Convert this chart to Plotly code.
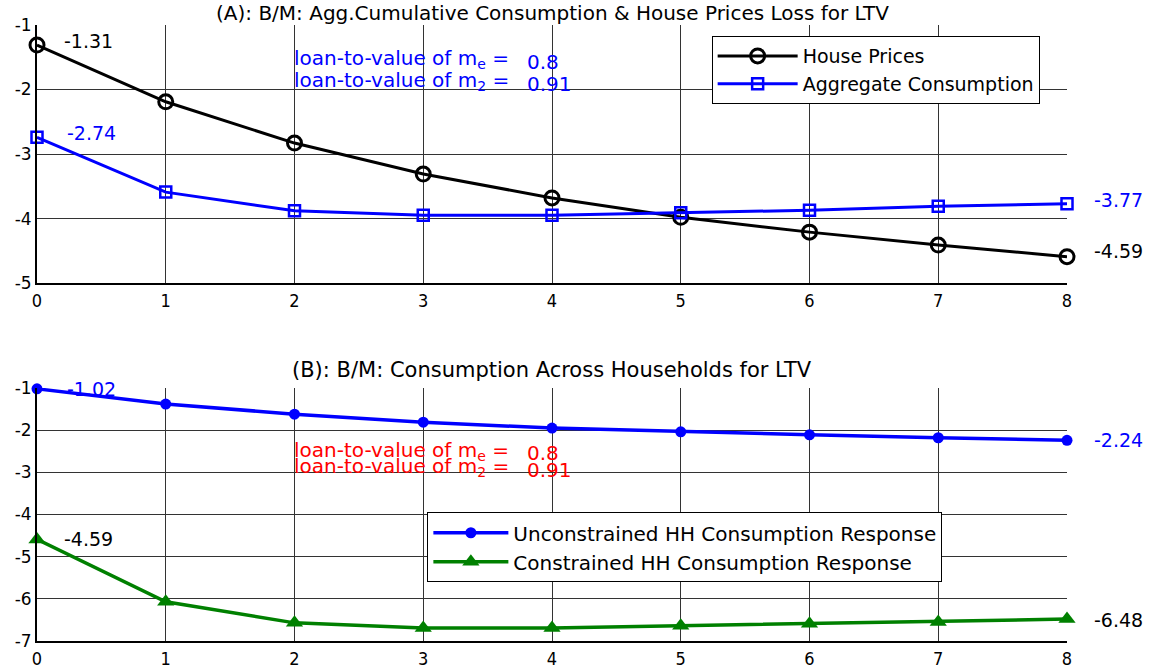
import plotly.graph_objects as go

periods = [0, 1, 2, 3, 4, 5, 6, 7, 8]
house_prices = [-1.31, -2.19, -2.83, -3.31, -3.68, -3.98, -4.21, -4.41, -4.59]
agg_consumption = [-2.74, -3.59, -3.88, -3.95, -3.95, -3.91, -3.87, -3.81, -3.77]
unconstrained = [-1.02, -1.38, -1.62, -1.81, -1.95, -2.04, -2.11, -2.18, -2.24]
constrained = [-4.59, -6.07, -6.57, -6.69, -6.69, -6.64, -6.59, -6.55, -6.48]
ytick_top = [-5, -4, -3, -2, -1]
ytick_bottom = [-7, -6, -5, -4, -3, -2, -1]
ltv_me = 0.8
ltv_m2 = 0.91

FONT = "DejaVu Sans, Liberation Sans, sans-serif"
NARROW = "DejaVu Sans Condensed, Liberation Sans Narrow, DejaVu Sans, sans-serif"

fig = go.Figure()

fig.add_trace(go.Scatter(x=periods, y=house_prices, name="House Prices", mode="lines+markers",
                         line=dict(color="black", width=3),
                         marker=dict(symbol="circle-open", size=14, color="black", line=dict(width=3)),
                         cliponaxis=False, xaxis="x", yaxis="y", legend="legend"))
fig.add_trace(go.Scatter(x=periods, y=agg_consumption, name="Aggregate Consumption", mode="lines+markers",
                         line=dict(color="blue", width=3),
                         marker=dict(symbol="square-open", size=11, color="blue", line=dict(width=2.5)),
                         cliponaxis=False, xaxis="x", yaxis="y", legend="legend"))
fig.add_trace(go.Scatter(x=periods, y=unconstrained, name="Unconstrained HH Consumption Response",
                         mode="lines+markers", line=dict(color="blue", width=3.5),
                         marker=dict(symbol="circle", size=11, color="blue"),
                         cliponaxis=False, xaxis="x2", yaxis="y2", legend="legend2"))
fig.add_trace(go.Scatter(x=periods, y=constrained, name="Constrained HH Consumption Response",
                         mode="lines+markers", line=dict(color="#008000", width=3.5),
                         marker=dict(symbol="triangle-up", size=15, color="#008000"),
                         cliponaxis=False, xaxis="x2", yaxis="y2", legend="legend2"))

axis_common = dict(showgrid=True, gridcolor="#333333", gridwidth=1, zeroline=False,
                   showline=True, linecolor="black", linewidth=2, ticks="", mirror=False,
                   automargin=False)

fig.update_layout(
    width=1151, height=668,
    paper_bgcolor="white", plot_bgcolor="white",
    margin=dict(l=37, r=84, t=25, b=27),
    font=dict(family=FONT, size=17, color="black"),
    xaxis=dict(domain=[0, 1], range=[0, 8], tickvals=periods, anchor="y",
               tickfont=dict(family=NARROW, size=18), **axis_common),
    yaxis=dict(domain=[0.581, 1], range=[-5, -1], tickvals=ytick_top,
               ticktext=[str(v) for v in ytick_top], anchor="x",
               tickfont=dict(family=FONT, size=17), **axis_common),
    xaxis2=dict(domain=[0, 1], range=[0, 8], tickvals=periods, anchor="y2",
                tickfont=dict(family=NARROW, size=18), **axis_common),
    yaxis2=dict(domain=[0, 0.4107], range=[-7, -1], tickvals=ytick_bottom,
                ticktext=[str(v) for v in ytick_bottom], anchor="x2",
                tickfont=dict(family=FONT, size=17), **axis_common),
    legend=dict(x=0.655, y=0.982, xanchor="left", yanchor="top", bgcolor="white",
                bordercolor="black", borderwidth=1, font=dict(size=19, family=FONT),
                tracegroupgap=0, itemwidth=80),
    legend2=dict(x=0.379, y=0.209, xanchor="left", yanchor="top", bgcolor="white",
                 bordercolor="black", borderwidth=1, font=dict(size=20, family=FONT),
                 tracegroupgap=0, itemwidth=75),
    showlegend=True,
)

anns = []
anns.append(dict(text="(A): B/M: Agg.Cumulative Consumption & House Prices Loss for LTV",
                 xref="paper", yref="paper", x=0.5, y=1.0, yanchor="middle", yshift=12,
                 showarrow=False, font=dict(size=20, family=FONT)))
anns.append(dict(text="(B): B/M: Consumption Across Households for LTV",
                 xref="paper", yref="paper", x=0.5, y=0.4107, yanchor="middle", yshift=18,
                 showarrow=False, font=dict(size=21, family=FONT)))

def val_label(x, y, txt, color, xr, yr, size=19, xshift=0, yshift=0):
    return dict(text=txt, x=x, y=y, xref=xr, yref=yr, xanchor="left", yanchor="middle",
                xshift=xshift, yshift=yshift,
                showarrow=False, font=dict(size=size, color=color, family=FONT))

# start-of-line labels
anns.append(val_label(periods[0], house_prices[0], f"{house_prices[0]:.2f}", "black", "x", "y", xshift=25, yshift=4))
anns.append(val_label(periods[0], agg_consumption[0], f"{agg_consumption[0]:.2f}", "blue", "x", "y", xshift=28, yshift=4))
anns.append(val_label(periods[0], unconstrained[0], f"{unconstrained[0]:.2f}", "blue", "x2", "y2", xshift=28))
anns.append(val_label(periods[0], constrained[0], f"{constrained[0]:.2f}", "black", "x2", "y2", xshift=25))
# end-of-line labels
anns.append(val_label(periods[-1], agg_consumption[-1], f"{agg_consumption[-1]:.2f}", "blue", "x", "y", xshift=25, yshift=4))
anns.append(val_label(periods[-1], house_prices[-1], f"{house_prices[-1]:.2f}", "black", "x", "y", xshift=25, yshift=6))
anns.append(val_label(periods[-1], unconstrained[-1], f"{unconstrained[-1]:.2f}", "blue", "x2", "y2", xshift=25))
anns.append(val_label(periods[-1], constrained[-1], f"{constrained[-1]:.2f}", "black", "x2", "y2", xshift=25, yshift=-1))

anns.append(val_label(1.98, -1.53, "loan-to-value of m<sub>e</sub> =", "blue", "x", "y", 20))
anns.append(val_label(3.79, -1.57, f"{ltv_me}", "blue", "x", "y", 20))
anns.append(val_label(1.98, -1.87, "loan-to-value of m<sub>2</sub> =", "blue", "x", "y", 20))
anns.append(val_label(3.79, -1.91, f"{ltv_m2}", "blue", "x", "y", 20))
anns.append(val_label(1.98, -2.49, "loan-to-value of m<sub>e</sub> =", "red", "x2", "y2", 20))
anns.append(val_label(3.79, -2.54, f"{ltv_me}", "red", "x2", "y2", 20))
anns.append(val_label(1.98, -2.87, "loan-to-value of m<sub>2</sub> =", "red", "x2", "y2", 20))
anns.append(val_label(3.79, -2.94, f"{ltv_m2}", "red", "x2", "y2", 20))

fig.update_layout(annotations=anns)

# remove the browser's default 8px page margin so the figure sits at the window's origin
fig.write_html("out.html", config={"displayModeBar": False},
               post_script="document.body.style.margin='0px';")
